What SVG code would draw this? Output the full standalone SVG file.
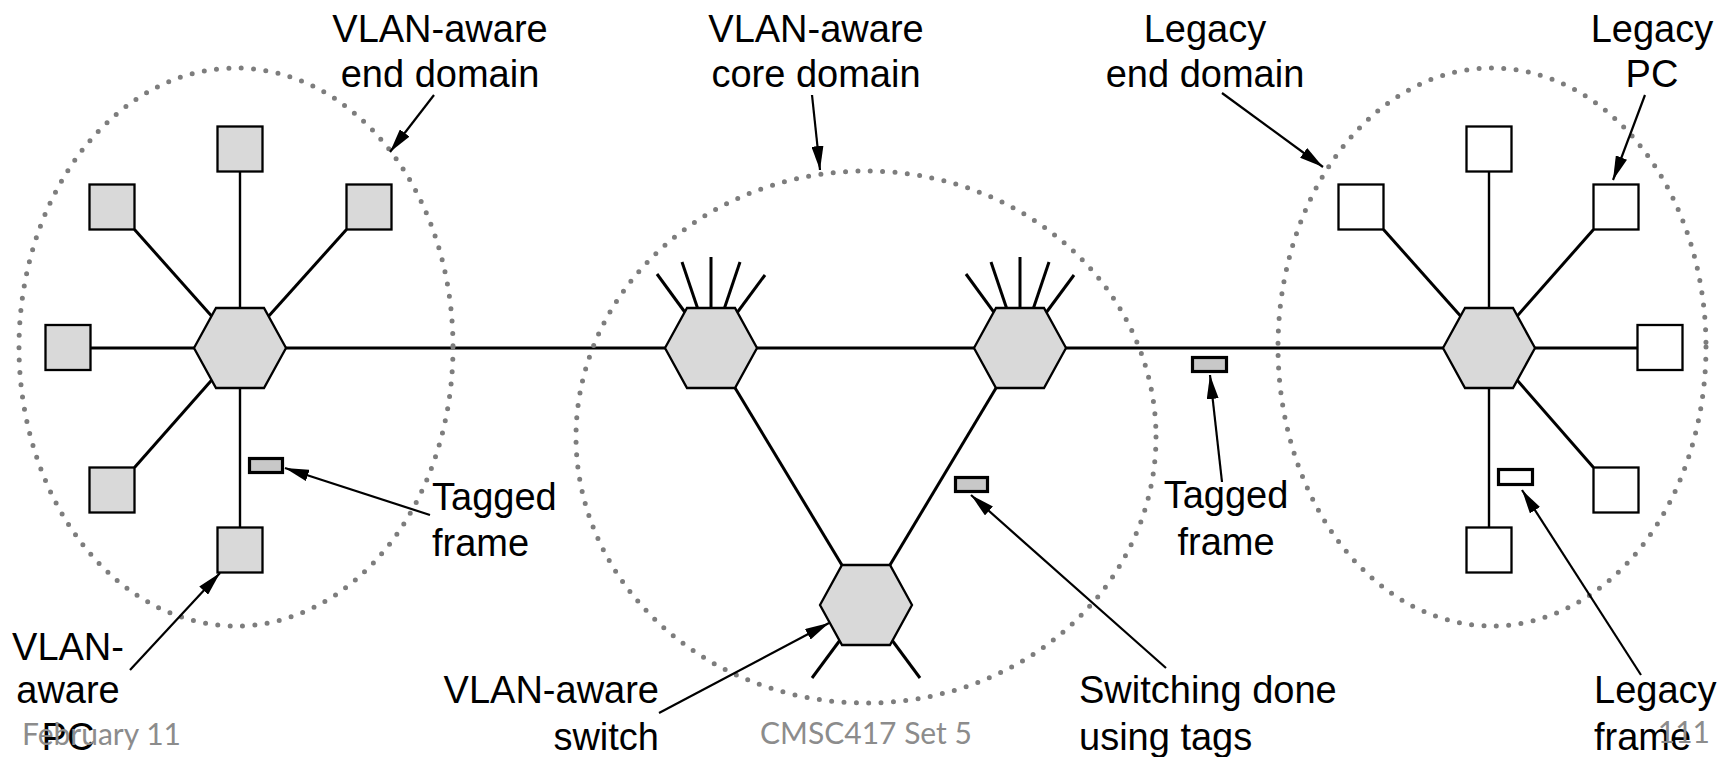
<svg xmlns="http://www.w3.org/2000/svg" width="1733" height="757" viewBox="0 0 1733 757">
<style>
.lbl{font-family:"Liberation Sans",Arial,sans-serif;font-size:38px;fill:#000}
.foot{font-family:Lato,"Liberation Sans",sans-serif;font-size:30px;fill:#8c8c8c}
.link{stroke:#000;stroke-width:3;fill:none}
.vlink{stroke:#000;stroke-width:2.4;fill:none}
.arrow{stroke:#000;stroke-width:2.2;fill:none;marker-end:url(#ah)}
.pcv{fill:#d9d9d9;stroke:#000;stroke-width:2.3}
.pcl{fill:#fff;stroke:#000;stroke-width:2.3}
.hex{fill:#d9d9d9;stroke:#000;stroke-width:2.3}
.dom{fill:none;stroke:#7d7d7d;stroke-width:5;stroke-linecap:round;stroke-dasharray:0 12.4}
.tag{fill:#c8c8c8;stroke:#000;stroke-width:3.2}
.leg{fill:#fff;stroke:#000;stroke-width:3.2}
</style>
<defs>
<marker id="ah" viewBox="0 0 24 12" refX="24" refY="6" markerWidth="24" markerHeight="12" markerUnits="userSpaceOnUse" orient="auto">
<path d="M0,0 L24,6 L0,12 z" fill="#000"/>
</marker>
<polygon id="hexshape" class="hex" points="-46,0 -24,-40 24,-40 46,0 24,40 -24,40"/>
</defs>
<rect width="1733" height="757" fill="#fff"/>

<g id="connectors">
<line class="link" x1="240" y1="348" x2="1489" y2="348"/>
<line class="vlink" x1="240" y1="348" x2="240" y2="172"/>
<line class="link" x1="240" y1="348" x2="134.5" y2="229.5"/>
<line class="link" x1="240" y1="348" x2="346.5" y2="229.5"/>
<line class="link" x1="240" y1="348" x2="90.5" y2="348"/>
<line class="link" x1="240" y1="348" x2="134.5" y2="467.5"/>
<line class="vlink" x1="240" y1="348" x2="240" y2="527.5"/>
<line class="vlink" x1="1489" y1="348" x2="1489" y2="171.5"/>
<line class="link" x1="1489" y1="348" x2="1383.5" y2="229.5"/>
<line class="link" x1="1489" y1="348" x2="1593.5" y2="229.5"/>
<line class="link" x1="1489" y1="348" x2="1637.5" y2="348"/>
<line class="link" x1="1489" y1="348" x2="1593.5" y2="467.5"/>
<line class="vlink" x1="1489" y1="348" x2="1489" y2="527.5"/>
<line class="link" x1="711" y1="348" x2="866" y2="605"/>
<line class="link" x1="1020" y1="348" x2="866" y2="605"/>
<g class="link">
<line x1="711" y1="348" x2="657" y2="274"/><line x1="711" y1="348" x2="682" y2="262"/><line x1="711" y1="348" x2="711" y2="257"/><line x1="711" y1="348" x2="740" y2="262"/><line x1="711" y1="348" x2="765" y2="275"/>
<line x1="1020" y1="348" x2="966" y2="274"/><line x1="1020" y1="348" x2="991" y2="262"/><line x1="1020" y1="348" x2="1020" y2="257"/><line x1="1020" y1="348" x2="1049" y2="262"/><line x1="1020" y1="348" x2="1074" y2="275"/>
<line x1="866" y1="605" x2="812" y2="678"/><line x1="866" y1="605" x2="920" y2="678"/>
</g>
</g>

<g id="domains">
<ellipse id="dom-vlan-end" class="dom" cx="236" cy="347" rx="217" ry="279"/>
<ellipse id="dom-vlan-core" class="dom" cx="866" cy="437" rx="290" ry="266"/>
<ellipse id="dom-legacy-end" class="dom" cx="1492" cy="347" rx="214" ry="279"/>
</g>

<g id="switch-left"><use href="#hexshape" x="240" y="348"/></g>
<g id="switch-core-left"><use href="#hexshape" x="711" y="348"/></g>
<g id="switch-core-right"><use href="#hexshape" x="1020" y="348"/></g>
<g id="switch-core-bottom"><use href="#hexshape" x="866" y="605"/></g>
<g id="switch-right"><use href="#hexshape" x="1489" y="348"/></g>

<g id="pcs-vlan">
<rect class="pcv" x="217.5" y="126.5" width="45" height="45"/>
<rect class="pcv" x="89.5" y="184.5" width="45" height="45"/>
<rect class="pcv" x="346.5" y="184.5" width="45" height="45"/>
<rect class="pcv" x="45.5" y="325" width="45" height="45"/>
<rect class="pcv" x="89.5" y="467.5" width="45" height="45"/>
<rect class="pcv" x="217.5" y="527.5" width="45" height="45"/>
</g>
<g id="pcs-legacy">
<rect class="pcl" x="1466.5" y="126.5" width="45" height="45"/>
<rect class="pcl" x="1338.5" y="184.5" width="45" height="45"/>
<rect class="pcl" x="1593.5" y="184.5" width="45" height="45"/>
<rect class="pcl" x="1637.5" y="325" width="45" height="45"/>
<rect class="pcl" x="1593.5" y="467.5" width="45" height="45"/>
<rect class="pcl" x="1466.5" y="527.5" width="45" height="45"/>
</g>

<g id="frames">
<rect class="tag" x="249.5" y="458.5" width="33" height="14"/>
<rect class="tag" x="955.5" y="477.5" width="32" height="14"/>
<rect class="tag" x="1192.5" y="357.5" width="34" height="14"/>
<rect class="leg" x="1498.5" y="469.5" width="34" height="15"/>
</g>

<g id="arrows">
<line class="arrow" x1="434" y1="95" x2="390" y2="152"/>
<line class="arrow" x1="812" y1="95" x2="820" y2="170"/>
<line class="arrow" x1="1222" y1="93" x2="1323" y2="167"/>
<line class="arrow" x1="1645" y1="95" x2="1613" y2="180"/>
<line class="arrow" x1="430" y1="515" x2="285" y2="468"/>
<line class="arrow" x1="130" y1="670" x2="220" y2="573"/>
<line class="arrow" x1="659" y1="713" x2="829" y2="623"/>
<line class="arrow" x1="1166" y1="668" x2="971" y2="495"/>
<line class="arrow" x1="1222" y1="482" x2="1210" y2="375"/>
<line class="arrow" x1="1641" y1="675" x2="1522" y2="490"/>
</g>

<g id="labels" class="lbl">
<text x="440" y="42" text-anchor="middle">VLAN-aware</text>
<text x="440" y="87" text-anchor="middle">end domain</text>
<text x="816" y="42" text-anchor="middle">VLAN-aware</text>
<text x="816" y="87" text-anchor="middle">core domain</text>
<text x="1205" y="42" text-anchor="middle">Legacy</text>
<text x="1205" y="87" text-anchor="middle">end domain</text>
<text x="1652" y="42" text-anchor="middle">Legacy</text>
<text x="1652" y="87" text-anchor="middle">PC</text>
<text x="432" y="510">Tagged</text>
<text x="432" y="556">frame</text>
<text x="1226" y="508" text-anchor="middle">Tagged</text>
<text x="1226" y="555" text-anchor="middle">frame</text>
<text x="68" y="660" text-anchor="middle">VLAN-</text>
<text x="68" y="703" text-anchor="middle">aware</text>
<text x="68" y="750" text-anchor="middle">PC</text>
<text x="659" y="703" text-anchor="end">VLAN-aware</text>
<text x="659" y="750" text-anchor="end">switch</text>
<text x="1079" y="703">Switching done</text>
<text x="1079" y="750">using tags</text>
<text x="1594" y="703">Legacy</text>
<text x="1594" y="750">frame</text>
</g>

<g id="footer" class="foot">
<text x="22" y="745">February 11</text>
<text x="866" y="744" text-anchor="middle">CMSC417 Set 5</text>
<text x="1710" y="743" text-anchor="end">111</text>
</g>
</svg>
